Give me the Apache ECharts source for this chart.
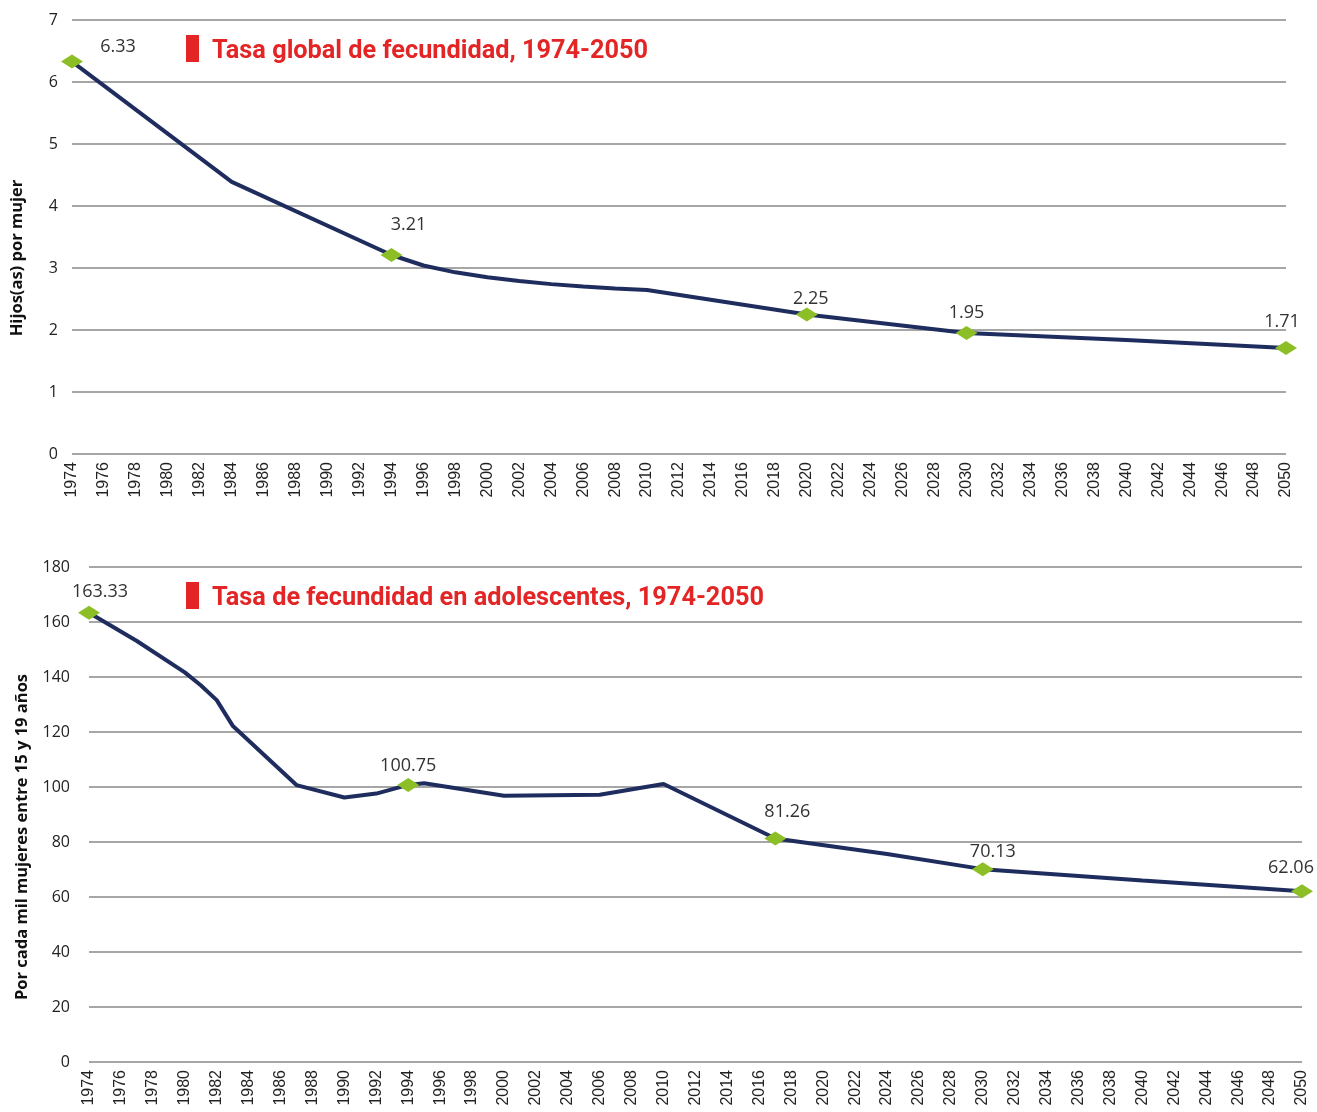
<!DOCTYPE html>
<html>
<head>
<meta charset="utf-8">
<script src="https://cdn.jsdelivr.net/npm/echarts@6/dist/echarts.min.js"></script>
<style>
  html, body { margin: 0; padding: 0; background: #fff; }
  #main { width: 1317px; height: 1112px; }
</style>
</head>
<body>
<div id="main"></div>
<script>
// Tasa global de fecundidad (hijos por mujer)
const yearsGlobal = [1974, 1984, 1994, 1996, 1998, 2000, 2002, 2004, 2006, 2008, 2010, 2020, 2030, 2040, 2050];
const tasaGlobal = [6.33, 4.39, 3.21, 3.04, 2.93, 2.85, 2.79, 2.74, 2.70, 2.67, 2.645, 2.25, 1.95, 1.84, 1.71];
const markedGlobal = [1974, 1994, 2020, 2030, 2050];

// Tasa de fecundidad en adolescentes (por mil mujeres 15-19)
const yearsAdol = [1974, 1977, 1980, 1981, 1982, 1983, 1987, 1990, 1992, 1994, 1995, 2000, 2006, 2010, 2017, 2024, 2030, 2040, 2050];
const tasaAdol = [163.33, 153.1, 141.7, 137.0, 131.6, 122.3, 100.7, 96.2, 97.6, 100.75, 101.4, 96.8, 97.2, 101.1, 81.26, 75.6, 70.13, 66.0, 62.06];
const markedAdol = [1974, 1994, 2017, 2030, 2050];

const titles = ['Tasa global de fecundidad, 1974-2050', 'Tasa de fecundidad en adolescentes, 1974-2050'];
const yNames = ['Hijos(as) por mujer', 'Por cada mil mujeres entre 15 y 19 años'];

// label offsets (style only)
const offsGlobal = { 1974: [46, 9], 1994: [17, -6], 2020: [4, 8], 2030: [0, 4], 2050: [-4, -2] };
const offsAdol = { 1974: [11, 3], 1994: [0, 5], 2017: [12, -3], 2030: [10, 7], 2050: [-11, 1] };

const myChart = echarts.init(document.getElementById('main'));

function buildData(years, vals, marked, offs) {
  return years.map((y, i) => {
    const item = { value: [y, vals[i]] };
    if (marked.includes(y)) {
      item.symbol = 'diamond';
      item.symbolSize = [22, 14];
      item.label = { show: true, offset: offs[y] };
    }
    return item;
  });
}

function xAxisCfg(idx) {
  return {
    type: 'value', gridIndex: idx, min: 1974, max: 2050, interval: 2,
    axisLine: { show: false }, axisTick: { show: false }, splitLine: { show: false },
    axisLabel: {
      rotate: 90, margin: 8, fontFamily: 'Liberation Sans', fontSize: 16, color: '#222',
      formatter: v => String(v)
    }
  };
}

function yAxisCfg(idx, max, interval, margin) {
  return {
    type: 'value', gridIndex: idx, min: 0, max: max, interval: interval,
    axisLine: { show: false }, axisTick: { show: false },
    axisLabel: { margin: margin, fontFamily: 'Open Sans', fontSize: 16, color: '#222' },
    splitLine: { lineStyle: { color: '#a6a6a6', width: 2 } }
  };
}

function seriesCfg(idx, data) {
  return {
    type: 'line', xAxisIndex: idx, yAxisIndex: idx,
    data: data,
    symbol: 'none',
    showAllSymbol: true,
    lineStyle: { color: '#1f2d5e', width: 4 },
    itemStyle: { color: '#8cbf26' },
    label: {
      position: 'top', distance: 8,
      fontFamily: 'Open Sans', fontSize: 18, color: '#333',
      formatter: p => p.value[1].toFixed(2)
    },
    animation: false
  };
}

const titleStyle = { fontFamily: 'Roboto', fontWeight: 'bold', fontSize: 25.3, color: '#e32526' };
const nameStyle = { fontFamily: 'Open Sans', fontWeight: 'bold', fontSize: 16.5, fill: '#111',
  textAlign: 'center', textVerticalAlign: 'middle' };

const options = {
  backgroundColor: '#fff',
  title: [
    { text: titles[0], left: 212, top: 39, padding: 0, textStyle: titleStyle },
    { text: titles[1], left: 212, top: 586, padding: 0, textStyle: titleStyle }
  ],
  graphic: [
    { type: 'rect', left: 186, top: 35, shape: { width: 13, height: 27 }, style: { fill: '#e32526' } },
    { type: 'rect', left: 186, top: 582, shape: { width: 13, height: 27 }, style: { fill: '#e32526' } },
    { type: 'text', x: 17, y: 258, rotation: Math.PI / 2,
      style: Object.assign({ text: yNames[0] }, nameStyle) },
    { type: 'text', x: 22, y: 837, rotation: Math.PI / 2,
      style: Object.assign({ text: yNames[1] }, nameStyle) }
  ],
  grid: [
    { left: 72, right: 31, top: 20, height: 434 },
    { left: 89, right: 15, top: 567, height: 495 }
  ],
  xAxis: [xAxisCfg(0), xAxisCfg(1)],
  yAxis: [yAxisCfg(0, 7, 1, 14), yAxisCfg(1, 180, 20, 19)],
  series: [
    seriesCfg(0, buildData(yearsGlobal, tasaGlobal, markedGlobal, offsGlobal)),
    seriesCfg(1, buildData(yearsAdol, tasaAdol, markedAdol, offsAdol))
  ]
};

myChart.setOption(options);
</script>
</body>
</html>
